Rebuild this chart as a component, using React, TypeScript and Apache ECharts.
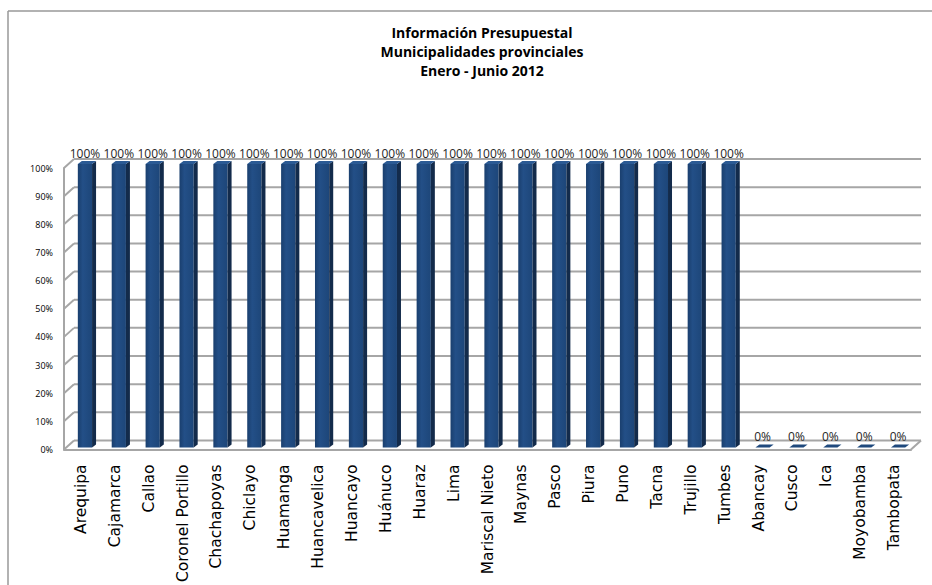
import React, { useEffect, useRef } from "react";
import * as echarts from "echarts";

const categories = [
  "Arequipa", "Cajamarca", "Callao", "Coronel Portillo", "Chachapoyas", "Chiclayo",
  "Huamanga", "Huancavelica", "Huancayo", "Huánuco", "Huaraz", "Lima", "Mariscal Nieto",
  "Maynas", "Pasco", "Piura", "Puno", "Tacna", "Trujillo", "Tumbes",
  "Abancay", "Cusco", "Ica", "Moyobamba", "Tambopata",
];
const values = [
  100, 100, 100, 100, 100, 100, 100, 100, 100, 100, 100, 100, 100,
  100, 100, 100, 100, 100, 100, 100,
  0, 0, 0, 0, 0,
];
const yTicks = [0, 10, 20, 30, 40, 50, 60, 70, 80, 90, 100];
const titleLines = ["Información Presupuestal", "Municipalidades provinciales", "Enero - Junio 2012"];

const DX = 10;
const DY = -9;
const GRID_GRAY = "#a6a6a6";

export default function App() {
  const ref = useRef<HTMLDivElement>(null);
  useEffect(() => {
    if (!ref.current) return;
    const chart = echarts.init(ref.current, null, { renderer: "svg" });
    const option: any = {
      animation: false,
      backgroundColor: "#ffffff",
      title: {
        text: titleLines.join("\n"),
        left: 477,
        top: 18,
        textAlign: "center",
        textStyle: {
          fontFamily: "Open Sans",
          fontWeight: "bold",
          fontSize: 14,
          lineHeight: 19,
          color: "#000",
        },
      },
      graphic: [
        { type: "line", shape: { x1: 8, y1: 11, x2: 932, y2: 11 }, style: { stroke: "#999", lineWidth: 1.5 } },
        { type: "line", shape: { x1: 8, y1: 11, x2: 8, y2: 585 }, style: { stroke: "#999", lineWidth: 1.5 } },
      ],
      grid: [{ left: 64, right: 21, top: 168, bottom: 133 }],
      xAxis: [
        {
          type: "category",
          data: categories,
          axisLine: { show: true, lineStyle: { color: GRID_GRAY, width: 2 } },
          axisTick: { show: false },
          axisLabel: {
            rotate: 90,
            interval: 0,
            margin: 15,
            fontFamily: "DejaVu Sans",
            fontSize: 15.5,
            color: "#000",
          },
          splitLine: { show: false },
        },
      ],
      yAxis: [
        {
          type: "value",
          min: 0,
          max: 100,
          interval: 10,
          axisLine: { show: true, lineStyle: { color: GRID_GRAY, width: 2 } },
          axisTick: { show: false },
          axisLabel: {
            formatter: "{value}%",
            margin: 11,
            fontFamily: "Open Sans",
            fontSize: 9,
            color: "#000",
          },
          splitLine: { show: false },
        },
      ],
      series: [
        {
          type: "custom",
          silent: true,
          clip: false,
          z: 1,
          encode: { x: 0, y: 1 },
          data: yTicks.map((v) => [0, v]),
          renderItem: (params: any, api: any) => {
            const v = api.value(1);
            const cs = params.coordSys;
            const yf = api.coord([0, v])[1];
            const left = cs.x;
            const right = cs.x + cs.width;
            const children: any[] = [
              {
                type: "line",
                shape: { x1: left, y1: yf, x2: left + DX, y2: yf + DY },
                style: { stroke: GRID_GRAY, lineWidth: 2 },
              },
              {
                type: "line",
                shape: { x1: left + DX, y1: yf + DY, x2: right + DX, y2: yf + DY },
                style: { stroke: GRID_GRAY, lineWidth: 2 },
              },
            ];
            if (v === 0) {
              children.push({
                type: "line",
                shape: { x1: right, y1: yf, x2: right + DX, y2: yf + DY },
                style: { stroke: GRID_GRAY, lineWidth: 2 },
              });
            }
            return { type: "group", children };
          },
        },
        {
          type: "custom",
          clip: false,
          z: 3,
          encode: { x: 0, y: 1 },
          data: values.map((v, i) => [i, v]),
          renderItem: (params: any, api: any) => {
            const i = api.value(0);
            const v = api.value(1);
            const top = api.coord([i, v]);
            const base = api.coord([i, 0]);
            const bw = api.size([1, 0])[0];
            const w = bw * 0.42;
            const ox = 4;
            const oy = -2;
            const dx = 4;
            const dy = -3;
            const x0 = top[0] + ox - w / 2;
            const yt = v > 0 ? top[1] + oy - 2 : top[1] + oy;
            const yb = base[1] + oy;
            const children: any[] = [];
            if (yb - yt > 0.5) {
              children.push({
                type: "rect",
                shape: { x: x0, y: yt, width: w, height: yb - yt },
                style: {
                  fill: new echarts.graphic.LinearGradient(0, 0, 1, 0, [
                    { offset: 0, color: "#1a3f6e" },
                    { offset: 0.35, color: "#234f87" },
                    { offset: 1, color: "#1d4679" },
                  ]),
                },
              });
              children.push({
                type: "polygon",
                shape: {
                  points: [
                    [x0 + w, yt],
                    [x0 + w + dx, yt + dy],
                    [x0 + w + dx, yb + dy],
                    [x0 + w, yb],
                  ],
                },
                style: { fill: "#132b4b" },
              });
            }
            children.push({
              type: "polygon",
              shape: {
                points: [
                  [x0, yt],
                  [x0 + dx, yt + dy],
                  [x0 + w + dx, yt + dy],
                  [x0 + w, yt],
                ],
              },
              style: { fill: v === 0 ? "#1f497d" : "#2b5a94" },
            });
            children.push({
              type: "text",
              style: {
                text: v + "%",
                x: x0 + w / 2,
                y: yt + dy - 8,
                textAlign: "center",
                textVerticalAlign: "middle",
                fontFamily: "Open Sans",
                fontSize: 12,
                fill: "#262626",
              },
            });
            return { type: "group", children };
          },
        },
      ],
    };
    chart.setOption(option);
    return () => chart.dispose();
  }, []);
  return (
    <div
      ref={ref}
      style={{ position: "fixed", left: 0, top: 0, width: 932, height: 585 }}
    />
  );
}
